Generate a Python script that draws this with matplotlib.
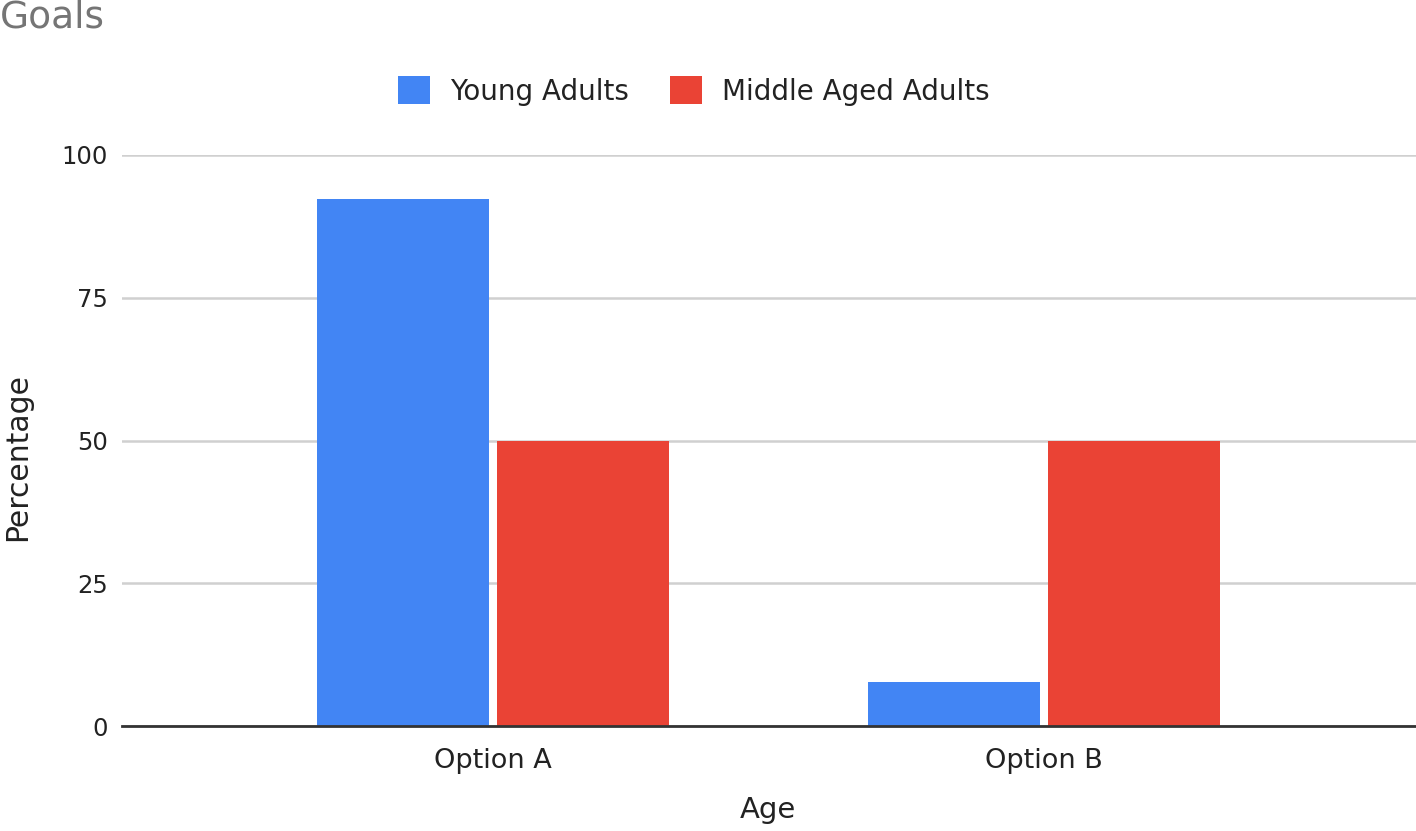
import matplotlib
matplotlib.use("Agg")
import matplotlib.pyplot as plt
import numpy as np

categories = ["Option A", "Option B"]
series = ["Young Adults", "Middle Aged Adults"]
young = [92.3, 7.7]
middle = [50.0, 50.0]
colors = ["#4285f4", "#ea4335"]

plt.rcParams["font.family"] = ["DejaVu Sans"]

W, H = 1416, 831
fig = plt.figure(figsize=(W / 100, H / 100), dpi=100)
ax = fig.add_axes([122 / W, 1 - 726 / H, (1416 - 122) / W, (726 - 155) / H])

x = np.arange(len(categories))
bw = 0.312
gap = 0.007
b1 = ax.bar(x - bw / 2 - gap, young, bw, color=colors[0], label=series[0], zorder=3)
b2 = ax.bar(x + bw / 2 + gap, middle, bw, color=colors[1], label=series[1], zorder=3)

ax.set_xlim(-0.673, 1.675)
ax.set_ylim(0, 100)
ax.set_yticks([0, 25, 50, 75, 100])
ax.set_xticks(x)
ax.set_xticklabels(categories)
ax.grid(axis="y", color="#d0d0d0", lw=1.8, zorder=0)
for s in ["top", "right", "left"]:
    ax.spines[s].set_visible(False)
ax.spines["bottom"].set_color("#333333")
ax.spines["bottom"].set_linewidth(2)
ax.spines["bottom"].set_zorder(4)
ax.tick_params(axis="both", length=0, colors="#222222")
ax.tick_params(axis="y", pad=10, labelsize=17.5)
ax.tick_params(axis="x", pad=16, labelsize=19.5)

fig.text(768 / W, 1 - 810 / H, "Age", ha="center", va="center", fontsize=21, color="#222222")
fig.text(18 / W, 1 - 457 / H, "Percentage", ha="center", va="center", rotation=90,
         fontsize=21.5, color="#222222")
fig.text(0, 1 - 18 / H, "Goals", ha="left", va="center", fontsize=27, color="#757575")

fig.legend(handles=[b1, b2], labels=series, loc="center",
           bbox_to_anchor=(694 / W, 1 - 91 / H), ncol=2, frameon=False,
           fontsize=20, handlelength=1.15, handleheight=1.15, handletextpad=0.72,
           columnspacing=1.5, labelcolor="#222222")

fig.savefig("out.png", dpi=100)
